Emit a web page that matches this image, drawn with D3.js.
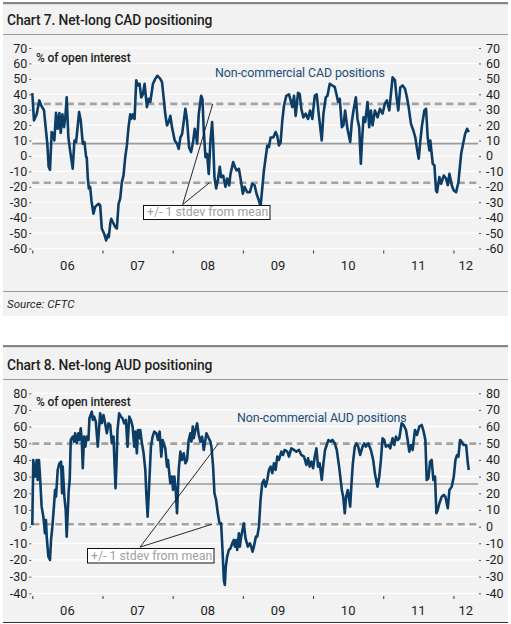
<!DOCTYPE html>
<html><head><meta charset="utf-8">
<script src="https://cdn.jsdelivr.net/npm/d3@7"></script>
<style>
html,body{margin:0;padding:0;background:#fff;}
svg{display:block;font-family:Roboto,"Noto Sans",sans-serif;}
</style></head><body>
<svg id="c" width="511" height="624"></svg>
<script>
// ---------------- DATA ----------------
const startYear = 2006;
const yearTicks = [2006, 2007, 2008, 2009, 2010, 2011, 2012];
const yearLabels = ["06", "07", "08", "09", "10", "11", "12"];
const domainEndYear = 2012.35;

const cadTicks = [-60, -50, -40, -30, -20, -10, 0, 10, 20, 30, 40, 50, 60, 70];
const audTicks = [-40, -30, -20, -10, 0, 10, 20, 30, 40, 50, 60, 70, 80];

// mean, +1 stdev, -1 stdev (% of open interest)
const cadRefs = [8, 33.8, -17.4];
const audRefs = [25.6, 49.8, 1.4];

// [years since start of 2006, net-long % of open interest]
const cadSeries = [[0.000,40.7],[0.024,23],[0.062,27],[0.100,36],[0.124,33],[0.167,29.5],[0.195,16.5],[0.214,8],[0.233,-7],[0.252,-9],[0.276,15.5],[0.300,14],[0.314,10],[0.338,28],[0.362,17.6],[0.386,27.8],[0.405,15],[0.429,27],[0.452,18.7],[0.471,25],[0.490,38],[0.514,12],[0.538,3.6],[0.576,-8.3],[0.600,10],[0.624,9],[0.667,28.4],[0.690,23],[0.719,8],[0.743,9],[0.767,-0.8],[0.776,-1],[0.790,-13.7],[0.805,-21],[0.824,-20],[0.843,-29],[0.871,-37.5],[0.895,-33],[0.943,-31],[0.967,-32],[0.990,-47],[1.024,-50.5],[1.052,-54.8],[1.076,-51],[1.090,-52.6],[1.110,-44],[1.124,-40.8],[1.148,-43],[1.181,-46],[1.205,-47],[1.229,-31],[1.252,-27.7],[1.276,-17],[1.300,-12.6],[1.324,-0.8],[1.348,7],[1.371,18.7],[1.395,27],[1.410,24],[1.433,27],[1.457,24],[1.481,49],[1.505,45.7],[1.529,46.8],[1.552,38],[1.576,40],[1.600,46.8],[1.633,31.7],[1.657,37],[1.681,35],[1.719,46.8],[1.752,50],[1.781,52],[1.824,50],[1.848,47.9],[1.871,38],[1.895,27],[1.919,19.8],[1.943,22],[1.967,26],[1.990,18.7],[2.029,10],[2.062,7.9],[2.086,4.6],[2.110,12],[2.133,14],[2.157,22],[2.181,30.6],[2.205,23],[2.233,5.7],[2.262,2.5],[2.290,9],[2.314,17.6],[2.333,13],[2.348,8],[2.371,27],[2.405,39],[2.424,37],[2.443,16.5],[2.467,-0.8],[2.490,1.4],[2.514,-11.6],[2.538,10],[2.562,22],[2.576,10],[2.595,-13.7],[2.619,-21],[2.643,-16],[2.671,-7],[2.690,-13.7],[2.719,-12.7],[2.752,-20],[2.776,-14.6],[2.805,-19],[2.824,-11.6],[2.862,-4],[2.886,-7],[2.910,-9.4],[2.943,-8.3],[2.967,-14.6],[3.000,-24.5],[3.024,-20],[3.062,-23.5],[3.100,-23.5],[3.133,-18],[3.167,-19],[3.195,-24.5],[3.229,-29],[3.252,-33],[3.300,-9.4],[3.348,6.8],[3.371,5.7],[3.395,12],[3.433,12],[3.467,15.5],[3.490,13],[3.514,6.8],[3.538,9],[3.562,23],[3.586,32.7],[3.619,39],[3.657,40],[3.681,36],[3.705,31.7],[3.729,39],[3.752,26],[3.786,41],[3.810,40],[3.833,30.6],[3.862,25],[3.895,27.4],[3.929,24],[3.957,29.5],[3.990,24],[4.024,39],[4.052,40],[4.086,25],[4.124,10],[4.148,27.4],[4.181,38],[4.205,39],[4.238,46.8],[4.276,45.7],[4.310,44.6],[4.338,39],[4.357,35],[4.381,37],[4.410,18.7],[4.433,19.8],[4.457,29.5],[4.490,17.6],[4.529,9],[4.552,22],[4.576,29.5],[4.610,38],[4.633,24],[4.657,18.7],[4.681,-5],[4.695,8],[4.719,25],[4.743,22],[4.776,35],[4.800,18.7],[4.824,29.5],[4.848,19.8],[4.881,29.5],[4.919,25],[4.952,30.6],[4.990,27.4],[5.024,34],[5.052,36],[5.086,29.5],[5.133,51],[5.167,49],[5.190,38],[5.214,29.5],[5.243,44.6],[5.276,45.7],[5.310,43.6],[5.338,38],[5.362,31.7],[5.395,20.8],[5.429,16.5],[5.457,12],[5.481,4.6],[5.505,-1.8],[5.529,10],[5.552,19.8],[5.586,29.5],[5.610,30.6],[5.633,12],[5.657,3.6],[5.671,10],[5.705,-5],[5.729,-6],[5.752,-22.4],[5.767,-23.5],[5.800,-13.7],[5.824,-18],[5.862,-12.7],[5.895,-14.6],[5.919,-19],[5.943,-11.6],[5.976,-19],[6.005,-22.4],[6.038,-23.5],[6.071,-17],[6.110,1.4],[6.133,6.8],[6.167,14.4],[6.195,17.6],[6.219,15.5]];

const audSeries = [[0.000,1],[0.014,40],[0.038,30],[0.062,40],[0.076,28],[0.095,40],[0.110,30],[0.133,12],[0.157,6],[0.181,-4],[0.195,4],[0.205,-6],[0.229,-18],[0.252,-20],[0.267,-8],[0.286,0],[0.310,13],[0.324,22],[0.338,18],[0.362,34],[0.386,38],[0.410,39],[0.424,20],[0.433,36],[0.457,18],[0.476,10],[0.490,-6],[0.505,8],[0.519,22],[0.533,28],[0.548,52],[0.576,54],[0.595,51],[0.610,56],[0.633,50],[0.657,56],[0.671,52],[0.690,59],[0.705,52],[0.719,35],[0.738,54],[0.757,48],[0.776,54],[0.800,52],[0.814,65],[0.848,69],[0.862,64],[0.881,66],[0.905,63],[0.933,48],[0.967,68],[0.990,62],[1.014,67],[1.038,62],[1.062,56],[1.086,62],[1.110,61],[1.133,50],[1.157,54],[1.171,38],[1.186,23],[1.200,38],[1.214,58],[1.238,68],[1.262,66],[1.286,65],[1.310,62],[1.333,64],[1.357,48],[1.381,66],[1.405,64],[1.429,60],[1.452,48],[1.467,57],[1.490,44],[1.505,58],[1.524,53],[1.538,58],[1.562,50],[1.586,44],[1.610,34],[1.624,20],[1.643,6],[1.662,22],[1.690,48],[1.714,54],[1.738,57],[1.767,56],[1.790,52],[1.814,57],[1.838,42],[1.857,52],[1.871,50],[1.895,47],[1.919,36],[1.933,40],[1.952,32],[1.967,26],[1.990,30],[2.005,22],[2.024,30],[2.043,22],[2.062,8],[2.086,34],[2.110,45],[2.133,40],[2.157,44],[2.181,38],[2.205,40],[2.229,52],[2.252,56],[2.267,51],[2.286,60],[2.300,53],[2.324,58],[2.348,62],[2.371,55],[2.395,51],[2.419,54],[2.443,46],[2.481,56],[2.514,53],[2.538,51],[2.552,48],[2.576,36],[2.595,20],[2.619,16],[2.643,8],[2.667,2],[2.690,2],[2.710,-14],[2.729,-32],[2.743,-35],[2.757,-24],[2.776,-18],[2.800,-14],[2.824,-13],[2.848,-10],[2.871,-8],[2.886,-12],[2.905,-8],[2.919,-14],[2.943,-4],[2.957,-12],[2.976,-6],[3.014,2],[3.038,-7],[3.071,-12],[3.100,-10],[3.119,-12],[3.138,-15],[3.157,-12],[3.186,-6],[3.205,-6],[3.229,0],[3.252,16],[3.276,26],[3.300,28],[3.324,24],[3.348,28],[3.371,34],[3.395,36],[3.419,32],[3.443,38],[3.467,34],[3.490,42],[3.514,40],[3.548,45],[3.571,43],[3.595,46],[3.633,45],[3.657,42],[3.690,47],[3.729,46],[3.762,45],[3.800,46],[3.833,43],[3.871,42],[3.905,37],[3.929,41],[3.952,36],[3.976,39],[4.000,35],[4.024,42],[4.048,47],[4.071,36],[4.095,38],[4.124,28],[4.148,38],[4.171,46],[4.219,52],[4.252,51],[4.276,52],[4.310,50],[4.338,46],[4.371,36],[4.410,22],[4.429,18],[4.452,8],[4.471,18],[4.495,22],[4.529,12],[4.548,26],[4.567,38],[4.595,48],[4.619,50],[4.643,48],[4.671,43],[4.705,48],[4.729,50],[4.752,48],[4.786,50],[4.824,46],[4.857,40],[4.881,32],[4.919,24],[4.943,30],[4.967,40],[4.990,53],[5.014,52],[5.038,48],[5.071,49],[5.100,47],[5.133,53],[5.157,49],[5.181,54],[5.205,52],[5.229,53],[5.262,62],[5.290,61],[5.324,58],[5.348,52],[5.371,45],[5.395,49],[5.419,46],[5.452,58],[5.481,55],[5.514,60],[5.548,61],[5.576,57],[5.600,52],[5.619,28],[5.643,29],[5.667,39],[5.690,40],[5.714,28],[5.738,30],[5.757,8],[5.776,10],[5.800,14],[5.833,18],[5.862,19],[5.886,18],[5.919,11],[5.943,22],[5.976,24],[6.005,30],[6.029,40],[6.052,43],[6.071,42],[6.095,52],[6.119,51],[6.143,49],[6.181,49],[6.205,38],[6.219,34]];

// ---------------- DRAWING ----------------
const svg = d3.select("#c");
const C = {
  bg: "#f2f2f2", border: "#868686", sep: "#9a9a9a", grid: "#ffffff",
  text: "#1e1e1e", line: "#0c3d66", legend: "#1d4d78",
  mean: "#9b9b9b", dash: "#a3a3a3", note: "#a0a0a0"
};
const PL = 32.3, PR = 478;

const panels = [
  { top: 2, bgBottom: 316, title: "Chart 7. Net-long CAD positioning", titleY: 25, sepY: 34.5,
    ticks: cadTicks, yDom: [-60, 70], yRange: [248.5, 48], series: cadSeries, refs: cadRefs,
    unitY: 61.5, legend: "Non-commercial CAD positions", legendX: 215, legendY: 76.5,
    xTickY: 250.5, xLabelY: 269.5, footSep: 291.5, source: "Source: CFTC", sourceY: 308,
    box: { x: 143.5, y: 205.5, w: 126.5, h: 14, tx: 147, ty: 216.3 },
    lead: { from: [2008.143, -31.5], to: [[2008.571, 33.8], [2008.522, -17.4]] } },
  { top: 345, bgBottom: 622, title: "Chart 8. Net-long AUD positioning", titleY: 369.5, sepY: 379.5,
    ticks: audTicks, yDom: [-40, 80], yRange: [593.3, 393.3], series: audSeries, refs: audRefs,
    unitY: 406, legend: "Non-commercial AUD positions", legendX: 237, legendY: 422,
    xTickY: 596, xLabelY: 614.5, bottomLine: 622.5,
    box: { x: 87.5, y: 548.5, w: 126.5, h: 14.5, tx: 91, ty: 559.5 },
    lead: { from: [2007.535, -12.3], to: [[2008.651, 49.8], [2008.557, 1.4]] } }
];

panels.forEach(p => {
  const g = svg.append("g");
  // panel background
  g.append("rect").attr("x", 3).attr("y", p.top).attr("width", 505).attr("height", p.bgBottom - p.top).attr("fill", C.bg);
  g.append("rect").attr("x", 3).attr("y", p.top).attr("width", 505).attr("height", 2.2).attr("fill", C.border);
  g.append("text").attr("x", 7).attr("y", p.titleY).attr("font-size", 13.8).attr("font-weight", 500)
    .attr("letter-spacing", -0.1).attr("fill", C.text).text(p.title);
  g.append("line").attr("x1", 3).attr("x2", 508).attr("y1", p.sepY).attr("y2", p.sepY).attr("stroke", C.sep).attr("stroke-width", 1);

  const x = d3.scaleLinear().domain([startYear, domainEndYear]).range([PL, PR]);
  const y = d3.scaleLinear().domain(p.yDom).range(p.yRange);

  // gridlines
  g.append("g").selectAll("line").data(p.ticks).join("line")
    .attr("x1", PL).attr("x2", PR).attr("y1", d => y(d)).attr("y2", d => y(d))
    .attr("stroke", C.grid).attr("stroke-width", 1.2);

  // y axes left and right
  const fmt = d => String(d);
  const left = g.append("g").attr("transform", `translate(${PL - 1},0)`)
    .call(d3.axisLeft(y).tickValues(p.ticks).tickSize(2).tickPadding(2).tickFormat(fmt));
  const right = g.append("g").attr("transform", `translate(${PR + 1},0)`)
    .call(d3.axisRight(y).tickValues(p.ticks).tickSize(2).tickPadding(5).tickFormat(fmt));
  [left, right].forEach(a => {
    a.select(".domain").remove();
    a.selectAll("line").attr("stroke", "#555");
    a.selectAll("text").attr("font-size", 12.5).attr("fill", C.text).attr("font-family", "Roboto,sans-serif");
  });

  // x ticks (year boundaries) and centred labels
  g.append("g").attr("transform", `translate(0,${p.xTickY})`)
    .call(d3.axisBottom(x).tickValues(yearTicks).tickSize(3).tickFormat(""))
    .call(a => a.select(".domain").remove())
    .selectAll("line").attr("stroke", "#333");
  g.append("g").selectAll("text").data(yearTicks).join("text")
    .attr("x", (d, i) => (x(d) + Math.min(x(d + 1), PR)) / 2)
    .attr("y", p.xLabelY).attr("text-anchor", "middle").attr("font-size", 13).attr("fill", C.text)
    .text((d, i) => yearLabels[i]);

  // reference lines: mean solid, +/- 1 stdev dashed
  g.append("line").attr("x1", PL).attr("x2", PR).attr("y1", y(p.refs[0])).attr("y2", y(p.refs[0]))
    .attr("stroke", C.mean).attr("stroke-width", 1.6);
  g.append("g").selectAll("line").data(p.refs.slice(1)).join("line")
    .attr("x1", PL).attr("x2", PR).attr("y1", d => y(d)).attr("y2", d => y(d))
    .attr("stroke", C.dash).attr("stroke-width", 2.6).attr("stroke-dasharray", "7,4.5");

  // series line
  const line = d3.line().x(d => x(startYear + d[0])).y(d => y(d[1]));
  g.append("path").datum(p.series).attr("d", line).attr("fill", "none")
    .attr("stroke", C.line).attr("stroke-width", 2.6).attr("stroke-linejoin", "round");

  // texts
  g.append("text").attr("x", 36).attr("y", p.unitY).attr("font-size", 12).attr("font-weight", 500)
    .attr("fill", C.text).attr("letter-spacing", -0.1).text("% of open interest");
  g.append("text").attr("x", p.legendX).attr("y", p.legendY).attr("font-size", 12.4)
    .attr("fill", C.legend).attr("letter-spacing", -0.1).text(p.legend);

  // annotation leaders and box
  const f = p.lead.from;
  g.append("g").selectAll("line").data(p.lead.to).join("line")
    .attr("x1", x(f[0])).attr("y1", y(f[1])).attr("x2", d => x(d[0])).attr("y2", d => y(d[1]))
    .attr("stroke", "#111").attr("stroke-width", 0.9);
  g.append("rect").attr("x", p.box.x).attr("y", p.box.y).attr("width", p.box.w).attr("height", p.box.h)
    .attr("fill", "#ffffff").attr("stroke", "#111").attr("stroke-width", 1);
  g.append("text").attr("x", p.box.tx).attr("y", p.box.ty).attr("font-size", 12.3).attr("fill", C.note)
    .text("+/- 1 stdev from mean");

  if (p.footSep) {
    g.append("line").attr("x1", 3).attr("x2", 508).attr("y1", p.footSep).attr("y2", p.footSep)
      .attr("stroke", C.sep).attr("stroke-width", 1);
    g.append("text").attr("x", 7).attr("y", p.sourceY).attr("font-size", 11.5).attr("font-style", "italic")
      .attr("fill", C.text).text(p.source);
  }
  if (p.bottomLine) {
    g.append("line").attr("x1", 3).attr("x2", 508).attr("y1", p.bottomLine).attr("y2", p.bottomLine)
      .attr("stroke", "#333").attr("stroke-width", 1.2);
  }
});
</script>
</body></html>
